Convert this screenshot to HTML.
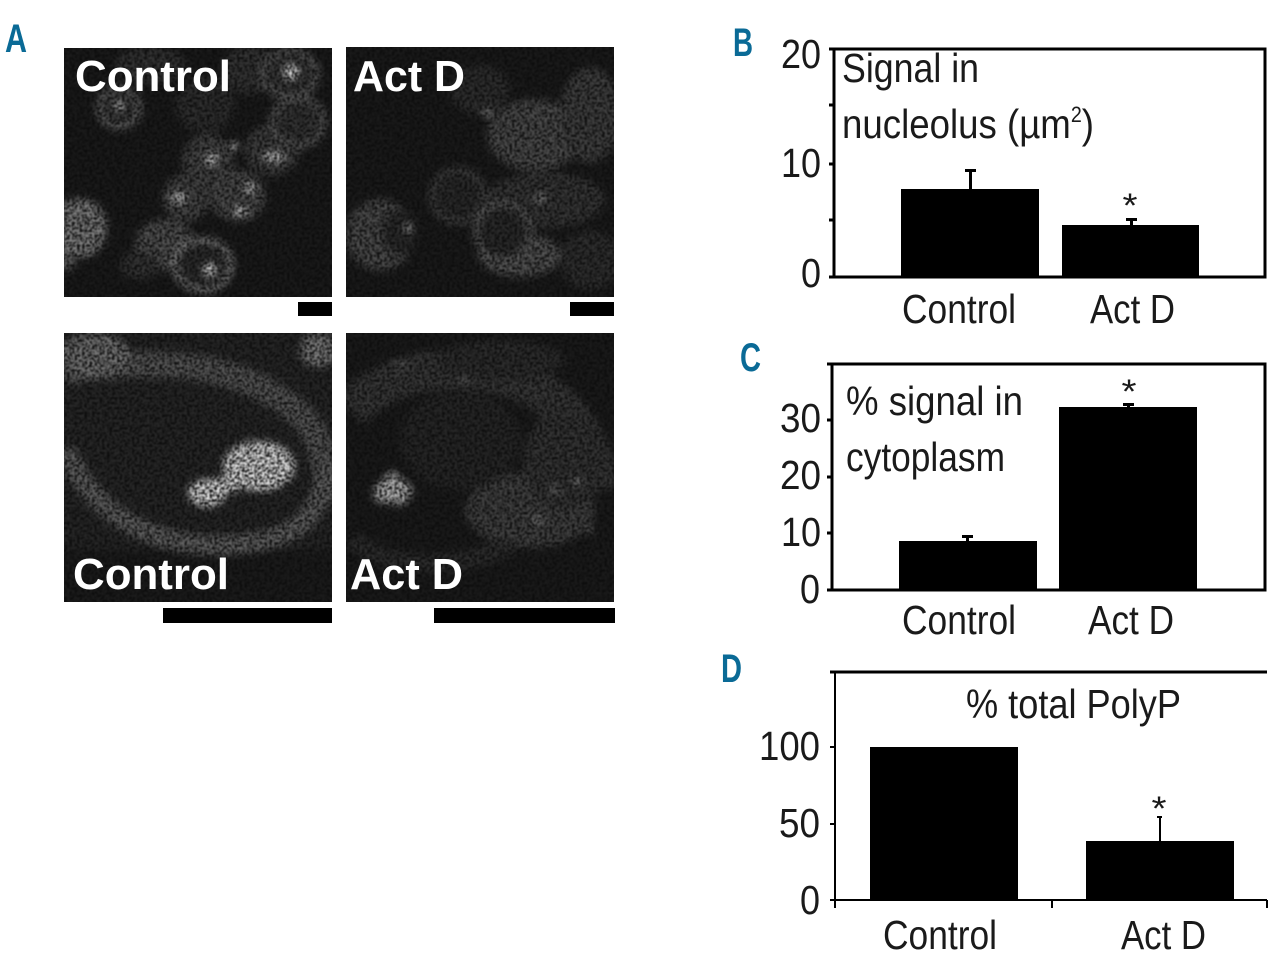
<!DOCTYPE html>
<html><head><meta charset="utf-8"><style>html,body{margin:0;padding:0;background:#fff}svg{display:block}
text{font-family:"Liberation Sans",sans-serif;fill:#1a1a1a;font-size:41px}
.w{font-weight:bold;fill:#fff;font-size:44px}
.l{font-weight:bold;fill:#0a6a96;font-size:40px}
.st{font-size:34px}</style></head><body>
<svg width="1280" height="963" viewBox="0 0 1280 963" xmlns="http://www.w3.org/2000/svg">
<defs>
<filter id="g" x="0" y="0" width="100%" height="100%" color-interpolation-filters="sRGB">
<feGaussianBlur in="SourceGraphic" stdDeviation="3.8" result="b"/>
<feTurbulence type="fractalNoise" baseFrequency="0.4" numOctaves="2" seed="4" result="n"/>
<feColorMatrix in="n" type="matrix" values="3.2 0 0 0 -1 3.2 0 0 0 -1 3.2 0 0 0 -1 0 0 0 0 1" result="m"/>
<feComposite in="b" in2="m" operator="arithmetic" k1="0.85" k2="0" k3="0" k4="0.04" result="c"/>
<feGaussianBlur in="c" stdDeviation="0.7"/>
</filter>
<clipPath id="c1"><rect x="64" y="48" width="268" height="249"/></clipPath>
<clipPath id="c2"><rect x="346" y="47" width="268" height="250"/></clipPath>
<clipPath id="c3"><rect x="64" y="333" width="268" height="269"/></clipPath>
<clipPath id="c4"><rect x="346" y="333" width="268" height="269"/></clipPath>
</defs>
<rect width="1280" height="963" fill="#fff"/>

<rect x="64" y="48" width="268" height="249" fill="#0d0d0d"/>
<g clip-path="url(#c1)"><g filter="url(#g)" fill="none" stroke-linecap="round">
<rect x="54" y="38" width="288" height="269" fill="#121212"/>
<g fill="#333" stroke="none">
<ellipse cx="150" cy="65" rx="35" ry="18"/><ellipse cx="205" cy="105" rx="30" ry="28" fill="#2c2c2c"/><ellipse cx="250" cy="70" rx="28" ry="24"/>
<ellipse cx="165" cy="245" rx="30" ry="26" fill="#585858"/><ellipse cx="140" cy="265" rx="20" ry="14"/>
<ellipse cx="80" cy="228" rx="27" ry="30" fill="#8a8a8a"/><ellipse cx="67" cy="262" rx="8" ry="9" fill="#666"/>
<ellipse cx="208" cy="160" rx="26" ry="26" fill="#484848"/><ellipse cx="186" cy="198" rx="24" ry="24" fill="#484848"/><ellipse cx="238" cy="196" rx="28" ry="26" fill="#505050"/>
<ellipse cx="272" cy="150" rx="28" ry="26" fill="#404040"/><ellipse cx="298" cy="122" rx="28" ry="26"/><ellipse cx="290" cy="74" rx="28" ry="24"/><ellipse cx="119" cy="108" rx="22" ry="21" fill="#303030"/><ellipse cx="203" cy="265" rx="28" ry="25" fill="#282828"/>
</g>
<g>
<ellipse cx="119" cy="108" rx="20" ry="19" stroke-width="6" stroke="#777"/>
<ellipse cx="290" cy="74" rx="27" ry="23" stroke-width="6" stroke="#6a6a6a"/>
<ellipse cx="298" cy="122" rx="26" ry="24" stroke-width="6" stroke="#666"/>
<ellipse cx="203" cy="265" rx="28" ry="25" stroke-width="6" stroke="#999"/>
</g>
<g fill="#fff" stroke="none">
<circle cx="291" cy="72" r="8"/><circle cx="119" cy="106" r="5"/><ellipse cx="274" cy="157" rx="11" ry="5"/>
<circle cx="212" cy="159" r="6"/><circle cx="234" cy="146" r="4"/><ellipse cx="179" cy="198" rx="8" ry="5"/><circle cx="250" cy="188" r="5"/><ellipse cx="240" cy="211" rx="7" ry="4"/><circle cx="210" cy="270" r="7"/>
</g></g></g>

<rect x="346" y="47" width="268" height="250" fill="#0d0d0d"/>
<g clip-path="url(#c2)"><g filter="url(#g)" fill="none">
<rect x="336" y="37" width="288" height="270" fill="#121212"/>
<g stroke="none" fill="#505050">
<ellipse cx="380" cy="235" rx="34" ry="36"/>
<ellipse cx="535" cy="135" rx="48" ry="36"/><ellipse cx="590" cy="115" rx="30" ry="48" fill="#424242"/>
<ellipse cx="480" cy="90" rx="30" ry="25" fill="#2c2c2c"/><ellipse cx="545" cy="200" rx="60" ry="28" fill="#363636"/>
<ellipse cx="520" cy="255" rx="42" ry="22" fill="#585858"/><ellipse cx="590" cy="260" rx="30" ry="30" fill="#2c2c2c"/>
</g>
<g fill="#262626" stroke="none"><ellipse cx="503" cy="232" rx="24" ry="26"/><ellipse cx="400" cy="232" rx="18" ry="22"/><ellipse cx="458" cy="196" rx="22" ry="22"/></g>
<ellipse cx="458" cy="196" rx="26" ry="26" stroke="#4c4c4c" stroke-width="6"/>
<ellipse cx="503" cy="232" rx="27" ry="28" stroke="#666" stroke-width="6"/>
<g fill="#ddd" stroke="none"><circle cx="408" cy="228" r="4"/><circle cx="487" cy="113" r="4"/><ellipse cx="540" cy="198" rx="5" ry="3"/></g>
</g></g>

<rect x="64" y="333" width="268" height="269" fill="#0d0d0d"/>
<g clip-path="url(#c3)"><g filter="url(#g)" fill="none">
<rect x="54" y="323" width="288" height="289" fill="#222"/>
<rect x="54" y="550" width="288" height="60" fill="#141414"/>
<path d="M64 372 C120 362 200 357 260 387 S325 450 328 500" stroke="#5e5e5e" stroke-width="26"/>
<path d="M66 450 C90 510 150 550 230 545 S315 510 330 470" stroke="#6a6a6a" stroke-width="20"/>
<ellipse cx="95" cy="355" rx="35" ry="22" fill="#808080" stroke="none"/>
<ellipse cx="318" cy="350" rx="18" ry="17" fill="#8a8a8a" stroke="none"/>
<g fill="#fff" stroke="none"><ellipse cx="259" cy="466" rx="36" ry="25"/><ellipse cx="207" cy="493" rx="19" ry="14"/><rect x="212" y="478" width="25" height="14"/></g>
</g></g>

<rect x="346" y="333" width="268" height="269" fill="#0d0d0d"/>
<g clip-path="url(#c4)"><g filter="url(#g)" fill="none">
<rect x="336" y="323" width="288" height="289" fill="#131313"/>
<path d="M350 410 C385 375 440 360 500 375 S590 430 600 490" stroke="#383838" stroke-width="40"/>
<ellipse cx="530" cy="510" rx="65" ry="38" fill="#444" stroke="none"/>
<ellipse cx="565" cy="460" rx="42" ry="50" fill="#333" stroke="none"/>
<ellipse cx="500" cy="360" rx="65" ry="20" fill="#2a2a2a" stroke="none"/>
<ellipse cx="460" cy="440" rx="60" ry="50" fill="#222" stroke="none"/>
<path d="M352 540 C390 570 460 570 510 545" stroke="#2b2b2b" stroke-width="18"/>
<g fill="#d0d0d0" stroke="none"><path d="M392 470 L414 490 L404 505 L376 502 L373 490 Z"/></g>
<g fill="#aaa" stroke="none"><circle cx="577" cy="482" r="4"/><circle cx="555" cy="490" r="4"/><circle cx="537" cy="520" r="4"/><circle cx="590" cy="530" r="3"/><circle cx="465" cy="380" r="3"/><circle cx="400" cy="365" r="3"/></g>
</g></g>

<g fill="#000">
<rect x="298" y="302" width="34" height="14"/><rect x="570" y="302" width="44" height="14"/>
<rect x="163" y="608" width="169" height="15"/><rect x="434" y="608" width="181" height="15"/>
</g>
<text class="w" x="75" y="91" textLength="156" lengthAdjust="spacingAndGlyphs">Control</text>
<text class="w" x="353" y="91" textLength="112" lengthAdjust="spacingAndGlyphs">Act D</text>
<text class="w" x="73" y="589" textLength="156" lengthAdjust="spacingAndGlyphs">Control</text>
<text class="w" x="350" y="589" textLength="113" lengthAdjust="spacingAndGlyphs">Act D</text>

<text class="l" x="5" y="52" textLength="22" lengthAdjust="spacingAndGlyphs">A</text>
<text class="l" x="733" y="56" textLength="20" lengthAdjust="spacingAndGlyphs">B</text>
<text class="l" x="740" y="371" textLength="21" lengthAdjust="spacingAndGlyphs">C</text>
<text class="l" x="721" y="682" textLength="21" lengthAdjust="spacingAndGlyphs">D</text>

<!-- B -->
<g fill="#000">
<rect x="901" y="189" width="138" height="89"/><rect x="1062" y="225" width="137" height="53"/>
<rect x="969" y="170" width="3" height="20"/><rect x="965" y="169" width="11" height="3"/>
<rect x="1130" y="219" width="3" height="7"/><rect x="1126" y="218" width="11" height="3"/>
</g>
<path d="M834 49H1265V277H829M834 49V277M829 49H834M829 105H834M829 164H834M829 220H834" fill="none" stroke="#000" stroke-width="3"/>
<g text-anchor="end">
<text x="821" y="68" textLength="40" lengthAdjust="spacingAndGlyphs">20</text>
<text x="821" y="177" textLength="40" lengthAdjust="spacingAndGlyphs">10</text>
<text x="821" y="287" textLength="20" lengthAdjust="spacingAndGlyphs">0</text>
</g>
<text x="842" y="82" textLength="137" lengthAdjust="spacingAndGlyphs">Signal in</text>
<text x="842" y="138" textLength="252" lengthAdjust="spacingAndGlyphs">nucleolus (µm<tspan font-size="22" dy="-16">2</tspan><tspan dy="16">)</tspan></text>
<text x="902" y="323" textLength="114" lengthAdjust="spacingAndGlyphs">Control</text>
<text x="1090" y="323" textLength="85" lengthAdjust="spacingAndGlyphs">Act D</text>
<text class="st" x="1122.5" y="217" textLength="15" lengthAdjust="spacingAndGlyphs">*</text>

<!-- C -->
<g fill="#000">
<rect x="899" y="541" width="138" height="50"/><rect x="1059" y="407" width="138" height="184"/>
<rect x="966" y="536" width="3" height="6"/><rect x="962" y="535" width="11" height="3"/>
<rect x="1127" y="404" width="3" height="4"/><rect x="1123" y="403" width="11" height="3"/>
</g>
<path d="M832 364H1265V590H827M832 364V590M827 364H832M827 420H832M827 477H832M827 533H832" fill="none" stroke="#000" stroke-width="3"/>
<g text-anchor="end">
<text x="821" y="432" textLength="41" lengthAdjust="spacingAndGlyphs">30</text>
<text x="821" y="489" textLength="41" lengthAdjust="spacingAndGlyphs">20</text>
<text x="821" y="546" textLength="40" lengthAdjust="spacingAndGlyphs">10</text>
<text x="820" y="603" textLength="20" lengthAdjust="spacingAndGlyphs">0</text>
</g>
<text x="846" y="415" textLength="177" lengthAdjust="spacingAndGlyphs">% signal in</text>
<text x="846" y="471" textLength="159" lengthAdjust="spacingAndGlyphs">cytoplasm</text>
<text x="902" y="634" textLength="114" lengthAdjust="spacingAndGlyphs">Control</text>
<text x="1088" y="634" textLength="86" lengthAdjust="spacingAndGlyphs">Act D</text>
<text class="st" x="1121.5" y="403" textLength="15" lengthAdjust="spacingAndGlyphs">*</text>

<!-- D -->
<g fill="#000">
<rect x="870" y="747" width="148" height="153"/><rect x="1086" y="841" width="148" height="59"/>
<rect x="1159" y="817" width="2" height="25"/><rect x="1157" y="816" width="5" height="2"/>
</g>
<path d="M830 672H1267" stroke="#000" stroke-width="3" fill="none"/>
<path d="M835 672V908M830 747H835M830 824H835M830 900H1267M1052 900V908M1267 900V908" fill="none" stroke="#000" stroke-width="2"/>
<g text-anchor="end">
<text x="820" y="760" textLength="61" lengthAdjust="spacingAndGlyphs">100</text>
<text x="820" y="837" textLength="41" lengthAdjust="spacingAndGlyphs">50</text>
<text x="820" y="914" textLength="20" lengthAdjust="spacingAndGlyphs">0</text>
</g>
<text x="966" y="718" textLength="215" lengthAdjust="spacingAndGlyphs">% total PolyP</text>
<text x="883" y="949" textLength="114" lengthAdjust="spacingAndGlyphs">Control</text>
<text x="1121" y="949" textLength="85" lengthAdjust="spacingAndGlyphs">Act D</text>
<text class="st" x="1151.5" y="820" textLength="15" lengthAdjust="spacingAndGlyphs">*</text>
</svg>
</body></html>
